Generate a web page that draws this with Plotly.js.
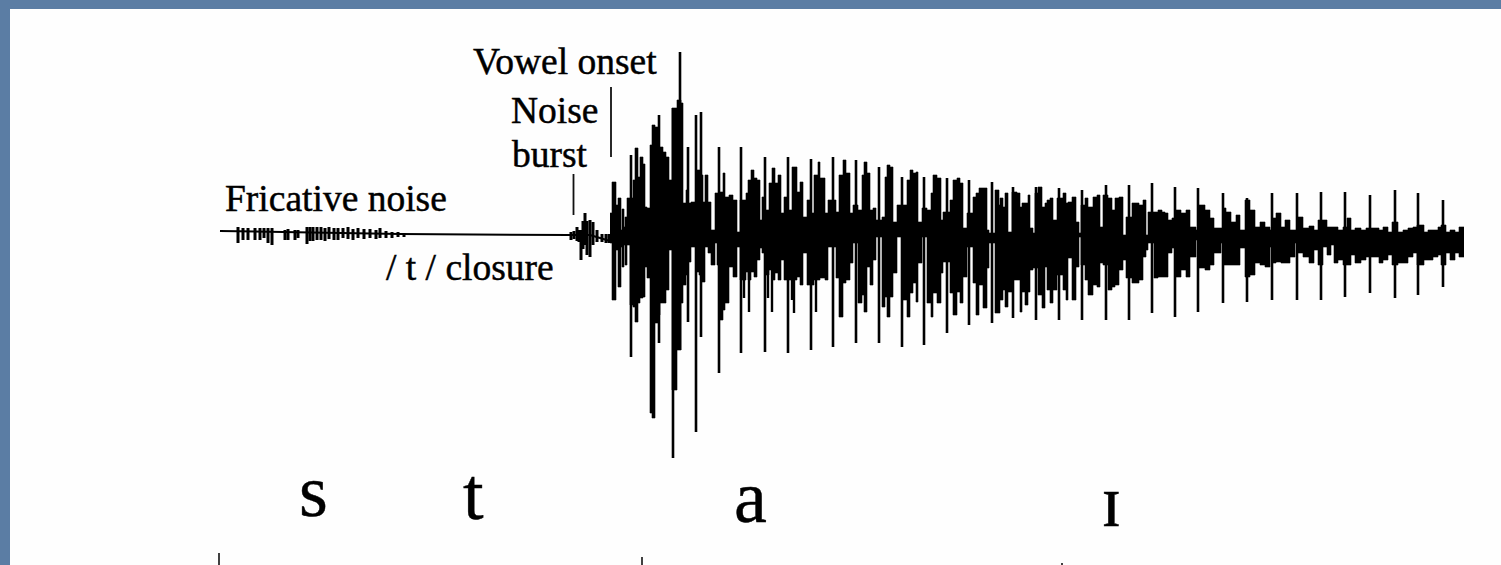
<!DOCTYPE html>
<html>
<head>
<meta charset="utf-8">
<script src="https://cdn.plot.ly/plotly-3.0.1.min.js"></script>
<style>html,body{margin:0;padding:0;background:#5b7da4;overflow:hidden}#c{width:1501px;height:565px}
.annotation-text{stroke:#000;stroke-width:0.45px}</style>
</head>
<body>
<div id="c"></div>
<script>
// Voiced waveform body: step columns (position, amplitude above and below the zero line)
const bodyX = [
610,612,616,618,621,622,624,625,627,630,
633,635,638,640,643,645,647,650,652,655,
658,660,663,666,669,672,677,681,683,686,
688,691,694,696,699,701,703,705,708,711,
715,717,720,723,725,729,733,737,
740,743,746,748,751,754,757,760,762,765,
769,772,775,778,781,784,788,792,797,800,
803,807,811,814,818,
820,825,828,836,839,843,846,850,853,858,
862,864,867,870,873,876,882,885,887,890,
893,897,903,907,910,913,916,918,922,927,
931,933,937,941,943,950,953,957,960,963,
967,973,976,979,983,987,989,995,999,
1000,1003,1005,1008,1012,1017,1020,1022,1025,1028,
1030,1033,1035,1038,1042,1045,1047,1050,1053,1057,
1063,1066,1068,1072,1076,1079,1081,1085,1088,1093,
1097,1100,1103,1108,1112,1115,1119,1123,1126,1132,
1136,1139,1143,1146,1148,1154,1158,1162,1165,1168,
1172,
1176,1181,1186,1190,1196,1199,1205,1210,1214,1221,
1224,1226,1231,1236,1240,1245,1250,1255,1260,1265,
1270,1273,1276,1281,1285,1290,1295,1298,1303,1309,
1314,1318,1323,1327,1331,1334,1338,1343,1347,1351,
1355,1361,1366,1372,1379,1383,1388,1392,1398,1403,
1408,1413,1417,1424,1428,1433,1438,1441,1446,1450,
1455,1459,1464];
const bodyUp = [
22,53,30,37,5,26,8,18,37,37,
55,87,58,78,71,28,27,90,110,108,
88,88,83,78,55,127,135,132,32,45,
32,33,33,65,65,60,33,60,33,5,
42,42,43,62,38,40,35,3,
35,35,42,55,65,57,55,15,38,25,
52,67,52,60,22,38,25,68,43,53,
18,35,22,60,73,
57,22,35,23,60,75,62,22,30,25,
60,73,62,25,27,15,18,58,70,68,
13,30,30,55,65,62,63,13,27,25,
42,60,57,15,23,35,55,57,52,7,
22,38,42,47,47,5,2,45,30,
37,28,42,3,43,42,28,32,32,40,
7,2,42,48,28,32,35,37,15,37,
42,32,33,38,13,2,30,37,28,38,
40,8,40,37,25,37,38,0,18,32,
32,30,35,0,23,23,25,23,22,15,
17,
25,22,25,8,5,30,25,17,7,7,
27,23,13,20,5,35,25,8,13,8,
5,17,22,8,15,5,5,18,7,9,
5,15,15,8,8,8,5,8,17,5,
7,5,7,7,5,8,3,13,3,5,
7,8,10,3,5,5,8,10,3,5,
3,8,8];
const bodyDown = [
8,65,15,52,12,32,10,30,10,70,
72,87,68,63,62,32,43,178,183,88,
80,68,68,55,15,155,115,68,50,40,
27,12,12,37,40,47,47,12,18,30,
8,30,85,75,68,32,42,12,
45,45,37,45,37,42,25,13,18,40,
35,45,38,45,25,45,45,45,42,50,
18,50,50,45,45,
43,45,12,43,82,48,45,28,8,68,
60,77,32,50,25,2,72,62,82,62,
38,2,65,82,58,48,67,28,2,68,
82,58,68,38,27,58,80,57,68,42,
12,48,80,50,73,33,8,78,78,
65,55,72,57,45,45,77,57,70,57,
35,33,33,60,73,32,55,68,55,40,
55,65,23,65,32,2,30,45,60,50,
52,28,30,55,52,50,35,25,43,48,
48,45,22,15,8,43,42,42,42,18,
13,
42,35,42,22,5,33,35,30,18,8,
30,30,30,30,13,42,40,28,30,32,
12,28,27,28,28,22,8,18,22,28,
15,30,12,20,10,28,25,30,30,20,
28,25,22,22,28,25,20,30,28,28,
22,18,30,25,25,22,20,30,18,25,
18,22,22];

// Tall thin glottal-pulse spikes
const spikeX = [631,659,673,680,688,696,701,719,741,765,788,811,833,856,879,902,924,947,969,992,1013,1036,1059,1082,1106,1129,1152,1175,1198,1223,1247,1272,1297,1321,1345,1370,1395,1418,1443];
const spikeUp = [80,120,127,183,88,120,123,88,88,78,78,76,78,75,68,58,58,57,55,53,48,48,47,45,50,50,52,48,47,42,37,42,42,43,43,40,45,42,35];
const spikeDown = [122,108,223,115,87,197,102,138,118,117,118,115,112,108,108,112,110,98,90,88,83,85,85,85,85,85,78,82,77,68,67,65,65,65,62,58,63,60,52];

// Narrow secondary teeth hanging below the body
const toothX = [744,749,768,772,792,794,816];
const toothDown = [63,77,63,77,65,78,77];

// Fricative noise and release burst spikes before the vowel
const noiseX = [238,243,248,255,260,264,268,272,285,288,295,298,307,310,313,317,321,325,329,334,338,343,348,353,358,364,370,376,380,386,392,398,404,571,574,577,579,581,583,585,587,590,593,597,602,606,609];
const noiseUp = [8,7,7,7,7,7,7,7,5,6,5,5,8,8,8,8,8,7,8,7,7,7,8,6,7,6,6,5,7,4,3,3,2,3,4,8,5,5,14,22,14,15,13,5,1,1,1];
const noiseDown = [8,5,5,5,5,3,8,10,5,5,5,3,9,6,6,5,5,6,4,5,5,3,4,5,3,4,3,4,3,3,3,2,2,5,4,6,7,25,14,10,20,22,10,7,7,8,8];

// Flat zero line running through the fricative and the closure
const baseX = [220,300,400,570,590,600,610];
const baseY = [4,3,1,0,0,-3,-6];

// Landmark lines above the waveform and segment ticks at the foot
const markerX = [573.5,611];
const markerTop = [61,148];
const markerBottom = [20,78];
const tickX = [219,642,1062];
const tickTop = [-318,-322,-328];
const tickBottom = [-330,-330,-330];

// Labels
const labelText = ['Vowel onset','Noise','burst','Fricative noise','/ t / closure'];
const labelX = [471,509,510,223,384];
const labelY = [151,102,58,14,-55];
const segText = ['s','t','a','ɪ'];
const segX = [297,461,732,1099];
const segY = [-299,-302,-305,-309];

const ink = '#000000';
function seg(xs,a,b){ const x=[],y=[]; xs.forEach((v,i)=>{x.push(v,v,null);y.push(a[i],b[i],null);}); return {x,y}; }
const sp = seg(spikeX,spikeUp,spikeDown.map(v=>-v));
const no = seg(noiseX,noiseUp,noiseDown.map(v=>-v));
const te = seg(toothX,toothX.map(()=>0),toothDown.map(v=>-v));
const mk = seg(markerX,markerTop,markerBottom);
const tk = seg(tickX,tickTop,tickBottom);

const traces = [
  {x:bodyX,y:bodyDown.map(v=>-v),mode:'lines',line:{color:ink,width:0.6,shape:'hv'},hoverinfo:'skip'},
  {x:bodyX,y:bodyUp,mode:'lines',fill:'tonexty',fillcolor:ink,line:{color:ink,width:0.6,shape:'hv'},hoverinfo:'skip'},
  {x:sp.x,y:sp.y,mode:'lines',line:{color:ink,width:2.6},connectgaps:false,hoverinfo:'skip'},
  {x:te.x,y:te.y,mode:'lines',line:{color:ink,width:2.4},connectgaps:false,hoverinfo:'skip'},
  {x:no.x,y:no.y,mode:'lines',line:{color:ink,width:3},connectgaps:false,hoverinfo:'skip'},
  {x:baseX,y:baseY,mode:'lines',line:{color:ink,width:2},hoverinfo:'skip'},
  {x:mk.x,y:mk.y,mode:'lines',line:{color:'#111',width:1.8},connectgaps:false,hoverinfo:'skip'},
  {x:tk.x,y:tk.y,mode:'lines',line:{color:'#111',width:1.6},connectgaps:false,hoverinfo:'skip'}
];

const font = 'Liberation Serif, Times New Roman, serif';
const annotations = labelText.map((t,i)=>({
  text:t,x:labelX[i],y:labelY[i],xref:'x',yref:'y',xanchor:'left',yanchor:'bottom',showarrow:false,
  font:{family:font,size:37.5,color:'#000'}
})).concat(segText.map((t,i)=>({
  text:t,x:segX[i],y:segY[i],xref:'x',yref:'y',xanchor:'left',yanchor:'bottom',showarrow:false,
  font:{family:font,size:74,color:'#000'}
})));

const layout = {
  width:1501,height:565,
  margin:{l:10,r:0,t:9,b:0,pad:0},
  paper_bgcolor:'#5b7da4',plot_bgcolor:'#fefefe',
  showlegend:false,hovermode:false,
  xaxis:{range:[10,1501],visible:false,fixedrange:true},
  yaxis:{range:[-330,226],visible:false,fixedrange:true},
  annotations
};
Plotly.newPlot('c',traces,layout,{displayModeBar:false,staticPlot:true});
</script>
</body>
</html>
